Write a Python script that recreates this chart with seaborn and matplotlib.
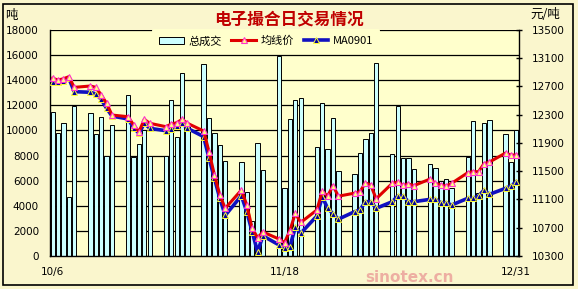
import matplotlib
matplotlib.use("Agg")
import matplotlib.pyplot as plt
import seaborn as sns
import numpy as np
import pandas as pd
from matplotlib.patches import Patch, Rectangle
from matplotlib.lines import Line2D
from matplotlib.font_manager import FontProperties

# ---------------- data ----------------
dates = ["10/6", "10/7", "10/8", "10/9", "10/10",
         "10/13", "10/14", "10/15", "10/16", "10/17",
         "10/20", "10/21", "10/22", "10/23", "10/24",
         "10/27", "10/28", "10/29", "10/30", "10/31",
         "11/3", "11/4", "11/5", "11/6", "11/7",
         "11/10", "11/11", "11/12", "11/13", "11/14",
         "11/17", "11/18", "11/19", "11/20", "11/21",
         "11/24", "11/25", "11/26", "11/27", "11/28",
         "12/1", "12/2", "12/3", "12/4", "12/5",
         "12/8", "12/9", "12/10", "12/11", "12/12",
         "12/15", "12/16", "12/17", "12/18", "12/19",
         "12/22", "12/23", "12/24", "12/25", "12/26",
         "12/29", "12/30", "12/31"]

volume = [11500, 9800, 10600, 4700, 11950,
          11400, 9700, 11100, 8000, 10450,
          12800, 7900, 8900, 10000, 7950,
          7950, 12450, 9500, 14600, 10500,
          15300, 11000, 9800, 8850, 7550,
          7500, 5100, 2800, 9000, 6850,
          15950, 5400, 10900, 12400, 12550,
          8700, 12200, 8500, 11000, 6800,
          6550, 8200, 9350, 9800, 15350,
          8150, 11950, 7800, 7800, 6950,
          7300, 7000, 6000, 6150, 5400,
          7900, 10750, 5000, 10600, 10850,
          9700, 7450, 10050]

avg_price = [12816, 12792, 12810, 12839, 12688,
             12707, 12688, 12580, 12462, 12296,
             12272, 12155, 12060, 12235, 12179,
             12131, 12169, 12187, 12235, 12179,
             12070, 11777, 11447, 11164, 10975,
             11234, 11022, 10692, 10560, 10640,
             10540, 10490, 10660, 10904, 10775,
             10951, 11215, 11150, 11295, 11147,
             11190, 11210, 11335, 11305, 11110,
             11330, 11345, 11300, 11320, 11296,
             11390, 11329, 11305, 11291, 11329,
             11480, 11494, 11494, 11607, 11630,
             11758, 11730, 11730]

ma0901 = [12768, 12768, 12782, 12816, 12627,
          12618, 12594, 12519, 12391, 12282,
          12240, 12117, 12037, 12179, 12108,
          12074, 12098, 12141, 12179, 12108,
          11990, 11683, 11400, 11117, 10875,
          11154, 10927, 10644, 10361, 10585,
          10456, 10420, 10432, 10706, 10621,
          10866, 11140, 10975, 10900, 10822,
          10927, 10951, 11069, 11069, 10975,
          11069, 11149, 11149, 11069, 11069,
          11102, 11102, 11055, 11055, 11022,
          11117, 11117, 11149, 11234, 11173,
          11258, 11291, 11352]

tick_labels = ["10/6", "11/18", "12/31"]
left_ticks = list(range(0, 18001, 2000))
right_ticks = list(range(10300, 13501, 400))

title = "电子撮合日交易情况"
series_names = ["总成交", "均线价", "MA0901"]

# day offsets (date axis like Excel)
dt = pd.to_datetime(["2008/" + d for d in dates])
days = np.array((dt - dt[0]).days)
df = pd.DataFrame({"day": days, "vol": volume, "avg": avg_price, "ma": ma0901})
tick_days = [int(days[dates.index(t)]) for t in tick_labels]

# ---------------- style ----------------
CJK = ["Noto Sans CJK SC", "DejaVu Sans"]
plt.rcParams["font.family"] = ["DejaVu Sans", "Noto Sans CJK SC"]

W, H = 578, 289
fig = plt.figure(figsize=(W / 100, H / 100), dpi=100)
fig.patch.set_facecolor("#FAF6CD")

ax = fig.add_axes([50 / W, 1 - 256 / H, 469 / W, 226 / H])
ax.set_facecolor("#FFFFCC")

sns.barplot(data=df, x="day", y="vol", native_scale=True, width=0.8,
            color="#CCFFFF", saturation=1, edgecolor="black", linewidth=0.7,
            errorbar=None, ax=ax, zorder=2)

ax.set_xlim(-0.5, days[-1] + 0.5)
ax.set_ylim(0, 18000)
ax.set_yticks(left_ticks)
ax.set_yticklabels([str(v) for v in left_ticks])
ax.set_xticks(tick_days)
ax.set_xticklabels(tick_labels)
ax.set_xlabel("")
ax.set_ylabel("")
ax.set_axisbelow(True)
ax.grid(axis="y", color="black", linewidth=0.9)
ax.grid(axis="x", visible=False)
for s in ["top", "right"]:
    ax.spines[s].set_visible(False)
for s in ["left", "bottom"]:
    ax.spines[s].set_color("black")
    ax.spines[s].set_linewidth(1.0)
ax.tick_params(axis="y", length=0, pad=8, labelsize=7.5, colors="black")
ax.tick_params(axis="x", length=0, pad=8, labelsize=7.5, colors="black")

ax2 = ax.twinx()
red_kw = dict(color="#E00000", linewidth=2.2, marker="^", markersize=4.5,
              markerfacecolor="#FFFF80", markeredgecolor="#FF33CC",
              markeredgewidth=0.8)
blue_kw = dict(color="#1010C0", linewidth=2.6, marker="^", markersize=4.5,
               markerfacecolor="#0000A0", markeredgecolor="#FFFF33",
               markeredgewidth=0.7)
sns.lineplot(data=df, x="day", y="ma", ax=ax2, zorder=3, **blue_kw)
sns.lineplot(data=df, x="day", y="avg", ax=ax2, zorder=4, **red_kw)
ax2.set_ylim(10300, 13500)
ax2.set_yticks(right_ticks)
ax2.set_yticklabels([str(v) for v in right_ticks])
ax2.set_xlim(-0.5, days[-1] + 0.5)
ax2.set_xlabel("")
ax2.set_ylabel("")
for s in ["top", "left", "bottom"]:
    ax2.spines[s].set_visible(False)
ax2.spines["right"].set_color("black")
ax2.spines["right"].set_linewidth(1.0)
ax2.tick_params(axis="y", direction="inout", length=5, width=1, pad=7,
                labelsize=7.5, colors="black")

handles = [Patch(facecolor="#CCFFFF", edgecolor="black", linewidth=0.7),
           Line2D([], [], **red_kw),
           Line2D([], [], **blue_kw)]
leg = ax2.legend(handles, series_names, loc="upper left",
                 bbox_to_anchor=(152 / W, 1 - 28.5 / H),
                 bbox_transform=fig.transFigure, ncol=3, frameon=True,
                 facecolor="#FFFFCC", edgecolor="none", framealpha=1,
                 prop=FontProperties(family=CJK, size=8),
                 handlelength=2.2, handletextpad=0.4, columnspacing=0.9,
                 borderpad=0.65, borderaxespad=0)
leg.set_zorder(10)

fig.text(289 / W, 1 - 19 / H, title, ha="center", va="center",
         fontsize=12, fontweight="bold", color="#C00000", family=CJK)
fig.text(5 / W, 1 - 15 / H, "吨", ha="left", va="center", fontsize=9,
         family=CJK, color="black")
fig.text(530 / W, 1 - 15 / H, "元/吨", ha="left", va="center", fontsize=9,
         family=CJK, color="black")

# watermark
fig.text(365 / W, 1 - 277 / H, "sinotex.cn", ha="left", va="center",
         fontsize=11, fontweight="bold", color="#E89090", alpha=0.7)

fig.patches.append(Rectangle((3 / W, 4 / H), 570 / W, 281 / H,
                             transform=fig.transFigure, fill=False,
                             edgecolor="black", linewidth=1.2))

fig.savefig("out.png", dpi=100, facecolor=fig.get_facecolor())
